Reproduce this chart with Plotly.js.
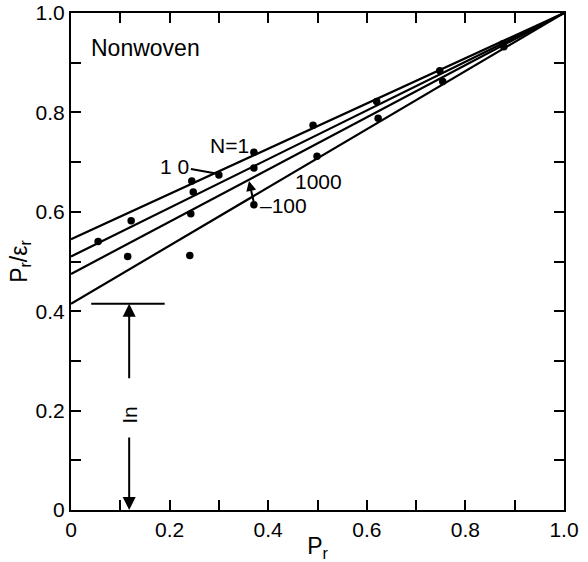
<!DOCTYPE html>
<html>
<head>
<meta charset="utf-8">
<script src="https://cdn.plot.ly/plotly-3.0.1.min.js"></script>
<style>
  html, body { margin: 0; padding: 0; background: #fff; }
  #chart { width: 588px; height: 562px; }
</style>
</head>
<body>
<div id="chart"></div>
<script>
// Tick positions and labels
const tickVals = [0, 0.2, 0.4, 0.6, 0.8, 1.0];
const tickText = ['0', '0.2', '0.4', '0.6', '0.8', '1.0'];
const minorTickVals = [0.1, 0.3, 0.5, 0.7, 0.9];

// Fitted straight lines (from intercept at Pr = 0 to the point (1, 1))
const fitX = [0, 1];
const fitN1 = [0.545, 1.0];
const fitN10 = [0.510, 1.0];
const fitN100 = [0.475, 1.0];
const fitN1000 = [0.415, 1.0];

// Measured points
const ptsN1x = [0.245, 0.371, 0.491, 0.620, 0.748, 0.876];
const ptsN1y = [0.662, 0.720, 0.774, 0.822, 0.884, 0.938];
const ptsN10x = [0.055, 0.122, 0.248, 0.300, 0.371];
const ptsN10y = [0.540, 0.582, 0.640, 0.674, 0.688];
const ptsN100x = [0.115, 0.243, 0.371];
const ptsN100y = [0.510, 0.596, 0.614];
const ptsN1000x = [0.241, 0.499, 0.623, 0.754, 0.878];
const ptsN1000y = [0.512, 0.712, 0.788, 0.862, 0.932];

const FONT = 'Liberation Sans, Arial, sans-serif';
const lineStyle = { color: 'black', width: 2.2 };
const markerStyle = { color: 'black', size: 7.5 };

const traces = [
  { x: fitX, y: fitN1, mode: 'lines', line: lineStyle, name: 'N=1 fit' },
  { x: fitX, y: fitN10, mode: 'lines', line: lineStyle, name: 'N=10 fit' },
  { x: fitX, y: fitN100, mode: 'lines', line: lineStyle, name: 'N=100 fit' },
  { x: fitX, y: fitN1000, mode: 'lines', line: lineStyle, name: 'N=1000 fit' },
  { x: ptsN1x, y: ptsN1y, mode: 'markers', marker: markerStyle, name: 'N=1' },
  { x: ptsN10x, y: ptsN10y, mode: 'markers', marker: markerStyle, name: 'N=10' },
  { x: ptsN100x, y: ptsN100y, mode: 'markers', marker: markerStyle, name: 'N=100' },
  { x: ptsN1000x, y: ptsN1000y, mode: 'markers', marker: markerStyle, name: 'N=1000' }
];

const inX = 0.118;
const inTop = fitN1000[0];

const axisCommon = {
  range: [0, 1],
  tickmode: 'array',
  tickvals: tickVals,
  ticktext: tickText,
  ticks: 'inside',
  ticklen: 10,
  tickwidth: 2,
  tickcolor: 'black',
  minor: { tickmode: 'array', tickvals: minorTickVals, ticks: 'inside', ticklen: 10, tickwidth: 2, tickcolor: 'black', showgrid: false },
  showline: true,
  linecolor: 'black',
  linewidth: 2,
  mirror: 'ticks',
  showgrid: false,
  zeroline: false,
  ticklabeloverflow: 'allow',
  tickfont: { family: FONT, size: 21, color: 'black' }
};

const layout = {
  width: 588,
  height: 562,
  margin: { l: 71, r: 24, t: 13, b: 52 },
  paper_bgcolor: 'white',
  plot_bgcolor: 'white',
  showlegend: false,
  xaxis: Object.assign({}, axisCommon, {
    title: { text: 'P<sub>r</sub>', font: { family: FONT, size: 23, color: 'black' }, standoff: 2 }
  }),
  yaxis: Object.assign({}, axisCommon, {
    title: { text: 'P<sub>r</sub>/ε<sub>r</sub>', font: { family: FONT, size: 23, color: 'black' }, standoff: 2 }
  }),
  shapes: [
    { type: 'line', xref: 'x', yref: 'y', x0: 0.041, x1: 0.19, y0: inTop, y1: inTop,
      line: { color: 'black', width: 2 } }
  ],
  annotations: [
    { x: 0.037, y: 0.93, xref: 'x', yref: 'y', text: 'Nonwoven', showarrow: false,
      xanchor: 'left', font: { family: FONT, size: 23, color: 'black' } },
    { x: 0.322, y: 0.734, xref: 'x', yref: 'y', text: 'N=1', showarrow: false,
      font: { family: FONT, size: 21, color: 'black' } },
    { x: 0.30, y: 0.676, xref: 'x', yref: 'y', text: '1 0', showarrow: true,
      arrowhead: 0, arrowwidth: 2, arrowcolor: 'black', ax: -44, ay: -8,
      font: { family: FONT, size: 21, color: 'black' } },
    { x: 0.503, y: 0.66, xref: 'x', yref: 'y', text: '1000', showarrow: false,
      font: { family: FONT, size: 21, color: 'black' } },
    { x: 0.432, y: 0.612, xref: 'x', yref: 'y', text: '–100', showarrow: false,
      font: { family: FONT, size: 21, color: 'black' } },
    { x: 0.361, y: 0.662, xref: 'x', yref: 'y', text: '', showarrow: true,
      arrowhead: 2, arrowsize: 1, arrowwidth: 2, arrowcolor: 'black', ax: 5, ay: 22 },
    { x: inX, y: 0.192, xref: 'x', yref: 'y', text: 'In', textangle: -90, showarrow: false,
      font: { family: FONT, size: 21, color: 'black' } },
    { x: inX, y: inTop, xref: 'x', yref: 'y', text: '', showarrow: true,
      arrowhead: 2, arrowsize: 1.3, arrowwidth: 2, arrowcolor: 'black', ax: 0, ay: 76 },
    { x: inX, y: 0, xref: 'x', yref: 'y', text: '', showarrow: true,
      arrowhead: 2, arrowsize: 1.3, arrowwidth: 2, arrowcolor: 'black', ax: 0, ay: -74 }
  ]
};

Plotly.newPlot('chart', traces, layout, { staticPlot: true, displayModeBar: false });
</script>
</body>
</html>
